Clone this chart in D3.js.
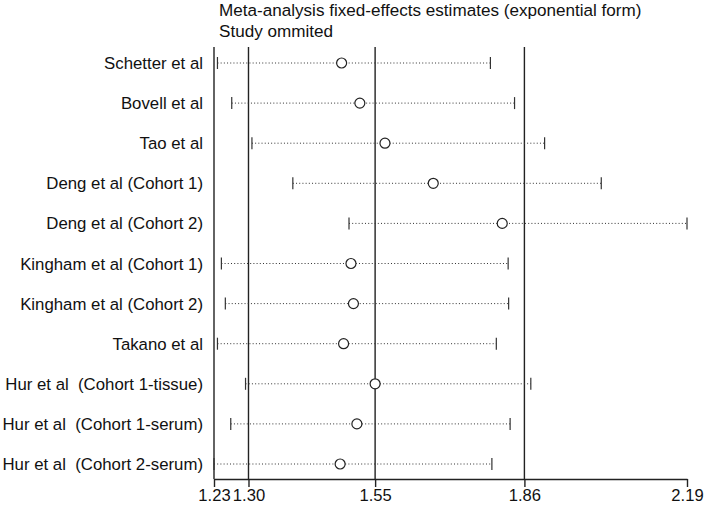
<!DOCTYPE html>
<html>
<head>
<meta charset="utf-8">
<script src="https://cdn.jsdelivr.net/npm/d3@7"></script>
<style>
  html, body { margin: 0; padding: 0; background: #fff; }
  svg { display: block; font-family: "Liberation Sans", Arial, Helvetica, sans-serif; }
  svg text { white-space: pre; }
</style>
</head>
<body>
<svg id="chart" width="709" height="505"></svg>
<script>
// ---- data ----
const studies = [
  "Schetter et al",
  "Bovell et al",
  "Tao et al",
  "Deng et al (Cohort 1)",
  "Deng et al (Cohort 2)",
  "Kingham et al (Cohort 1)",
  "Kingham et al (Cohort 2)",
  "Takano et al",
  "Hur et al  (Cohort 1-tissue)",
  "Hur et al  (Cohort 1-serum)",
  "Hur et al  (Cohort 2-serum)"
];
const estimates = [1.489, 1.526, 1.577, 1.675, 1.815, 1.508, 1.513, 1.493, 1.557, 1.520, 1.486];
const lowerCI   = [1.237, 1.266, 1.307, 1.390, 1.504, 1.245, 1.253, 1.237, 1.294, 1.264, 1.230];
const upperCI   = [1.791, 1.840, 1.901, 2.016, 2.190, 1.827, 1.828, 1.803, 1.873, 1.831, 1.794];
const tickValues = [1.23, 1.30, 1.557, 1.86, 2.19];
const tickLabels = ["1.23", "1.30", "1.55", "1.86", "2.19"];
const refLines = [1.30, 1.557, 1.86];
const titleLines = ["Meta-analysis fixed-effects estimates (exponential form)", "Study ommited"];

(function () {
// ---- layout ----
const svg = d3.select("#chart");
const pLeft = 214, pRight = 687, pTop = 47, axisY = 479;

const x = d3.scaleLinear().domain([1.23, 2.19]).range([pLeft, pRight]);
const y = d3.scalePoint().domain(studies).range([63, 464]);

const rows = studies.map((s, i) => ({ s, est: estimates[i], lo: lowerCI[i], hi: upperCI[i] }));

// title
svg.append("g").selectAll("text").data(titleLines).join("text")
  .attr("x", 219)
  .attr("y", (d, i) => 16 + i * 20.5)
  .attr("font-size", 17.1)
  .attr("fill", "#111")
  .text(d => d);

// left axis line
svg.append("line")
  .attr("x1", pLeft).attr("x2", pLeft)
  .attr("y1", pTop).attr("y2", axisY)
  .attr("stroke", "#222").attr("stroke-width", 1.4);

// reference vertical lines
svg.append("g").selectAll("line").data(refLines).join("line")
  .attr("x1", d => x(d)).attr("x2", d => x(d))
  .attr("y1", pTop).attr("y2", axisY)
  .attr("stroke", "#222").attr("stroke-width", 1.4);

// bottom axis
const xAxis = d3.axisBottom(x)
  .tickValues(tickValues)
  .tickFormat((d, i) => tickLabels[i])
  .tickSize(8)
  .tickSizeOuter(0)
  .tickPadding(3);
const gx = svg.append("g").attr("transform", `translate(0,${axisY})`).call(xAxis);
gx.select(".domain").attr("stroke", "#222").attr("stroke-width", 1.4);
gx.selectAll(".tick line").attr("stroke", "#222").attr("stroke-width", 1.4);
gx.selectAll(".tick text")
  .attr("font-family", "'Liberation Sans', Arial, sans-serif")
  .attr("font-size", 16.6)
  .attr("fill", "#111")
  .attr("dy", "0.66em");

// study labels
svg.append("g").selectAll("text").data(rows).join("text")
  .attr("x", 203)
  .attr("y", d => y(d.s))
  .attr("dy", "0.36em")
  .attr("text-anchor", "end")
  .attr("font-size", 16.8)
  .attr("fill", "#111")
  .text(d => d.s);

// CI dotted lines
const g = svg.append("g");
g.selectAll("line.ci").data(rows).join("line")
  .attr("class", "ci")
  .attr("x1", d => x(d.lo)).attr("x2", d => x(d.hi))
  .attr("y1", d => y(d.s)).attr("y2", d => y(d.s))
  .attr("stroke", "#333").attr("stroke-width", 1)
  .attr("stroke-dasharray", "1,2.2");

// caps
g.selectAll("line.lo").data(rows).join("line")
  .attr("class", "lo")
  .attr("x1", d => x(d.lo)).attr("x2", d => x(d.lo))
  .attr("y1", d => y(d.s) - 6).attr("y2", d => y(d.s) + 6)
  .attr("stroke", "#333").attr("stroke-width", 1.2);
g.selectAll("line.hi").data(rows).join("line")
  .attr("class", "hi")
  .attr("x1", d => x(d.hi)).attr("x2", d => x(d.hi))
  .attr("y1", d => y(d.s) - 6).attr("y2", d => y(d.s) + 6)
  .attr("stroke", "#333").attr("stroke-width", 1.2);

// estimates
g.selectAll("circle").data(rows).join("circle")
  .attr("cx", d => x(d.est))
  .attr("cy", d => y(d.s))
  .attr("r", 5)
  .attr("fill", "#fff")
  .attr("stroke", "#222")
  .attr("stroke-width", 1.2);
})();
</script>
</body>
</html>
